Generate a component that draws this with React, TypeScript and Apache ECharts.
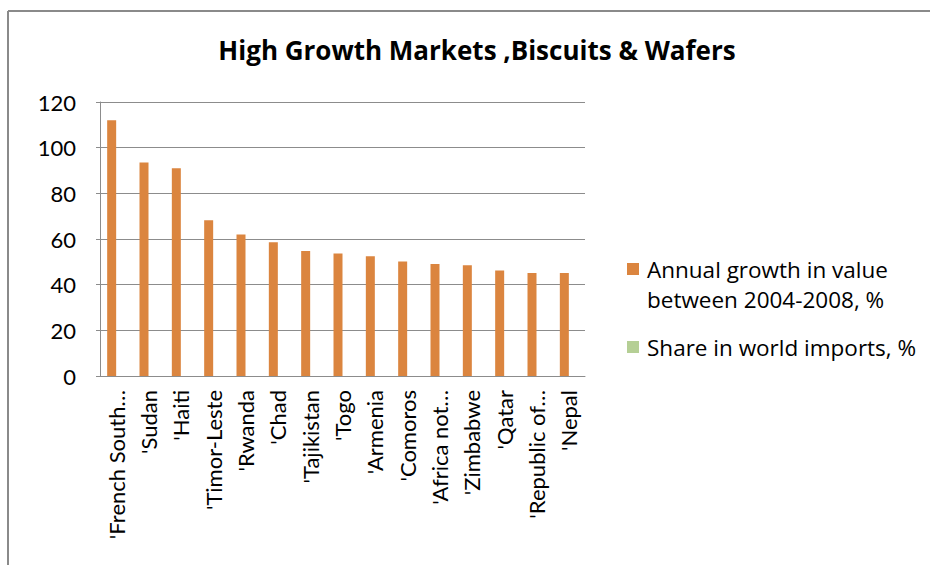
import React, { useEffect, useRef } from "react";
import * as echarts from "echarts";

const categories = [
  "'French South…",
  "'Sudan",
  "'Haiti",
  "'Timor-Leste",
  "'Rwanda",
  "'Chad",
  "'Tajikistan",
  "'Togo",
  "'Armenia",
  "'Comoros",
  "'Africa not…",
  "'Zimbabwe",
  "'Qatar",
  "'Republic of…",
  "'Nepal",
];
const growthValues = [112, 93.5, 91, 68.2, 62, 58.6, 54.7, 53.6, 52.4, 50.1, 49.1, 48.5, 46.2, 45.1, 45.1];
const shareValues = [0, 0, 0, 0, 0, 0, 0, 0, 0, 0, 0, 0, 0, 0, 0];
const yTicks = { min: 0, max: 120, interval: 20 };
const seriesNames = ["Annual growth in value\nbetween 2004-2008, %", "Share in world imports, %"];
const titleText = "High Growth Markets ,Biscuits & Wafers";

const FONT = "Lato, 'Open Sans', sans-serif";
const WIDE = "'Open Sans', Lato, sans-serif";

export default function App() {
  const ref = useRef<HTMLDivElement>(null);
  useEffect(() => {
    if (!ref.current) return;
    const chart = echarts.init(ref.current, undefined, { renderer: "svg" });
    chart.setOption({
      animation: false,
      backgroundColor: "#ffffff",
      textStyle: { fontFamily: FONT },
      title: {
        text: titleText,
        left: 472,
        textAlign: "center",
        top: 32,
        textStyle: { fontFamily: WIDE, fontSize: 26, fontWeight: "bold", color: "#000" },
      },
      graphic: [
        { type: "line", shape: { x1: 8, y1: 11, x2: 930, y2: 11 }, style: { stroke: "#8a8a8a", lineWidth: 2 } },
        { type: "line", shape: { x1: 8, y1: 11, x2: 8, y2: 565 }, style: { stroke: "#8a8a8a", lineWidth: 2 } },
      ],
      legend: {
        orient: "vertical",
        left: 627,
        top: 224,
        padding: 0,
        itemWidth: 12,
        itemHeight: 12,
        itemGap: 18,
        icon: "rect",
        formatter: (name: string) => (name === seriesNames[0] ? " \n" + name : name),
        textStyle: { fontFamily: WIDE, fontSize: 22.5, color: "#000", lineHeight: 30, padding: [0, 0, 0, 3] },
        data: seriesNames,
      },
      grid: { left: 100, right: 345, top: 102, bottom: 189, containLabel: false },
      xAxis: {
        type: "category",
        data: categories,
        axisLine: { lineStyle: { color: "#8c8c8c", width: 1 } },
        axisTick: { show: false },
        axisLabel: {
          rotate: 90,
          interval: 0,
          margin: 14,
          fontFamily: FONT,
          fontSize: 22,
          color: "#000",
        },
      },
      yAxis: {
        type: "value",
        min: yTicks.min,
        max: yTicks.max,
        interval: yTicks.interval,
        axisLine: { show: true, lineStyle: { color: "#8c8c8c", width: 1 } },
        axisTick: { show: true, length: 4, lineStyle: { color: "#8c8c8c" } },
        splitLine: { lineStyle: { color: "#8c8c8c", width: 1 } },
        axisLabel: { margin: 24, fontFamily: FONT, fontSize: 22, color: "#000" },
      },
      series: [
        {
          name: seriesNames[0],
          type: "bar",
          data: growthValues,
          barWidth: 9,
          barGap: "0%",
          itemStyle: { color: "#DB853F" },
        },
        {
          name: seriesNames[1],
          type: "bar",
          data: shareValues,
          barWidth: 9,
          itemStyle: { color: "#B5CF95" },
        },
      ],
    });
    return () => chart.dispose();
  }, []);
  return (
    <div
      ref={ref}
      style={{ position: "fixed", left: 0, top: 0, width: 930, height: 565 }}
    />
  );
}
